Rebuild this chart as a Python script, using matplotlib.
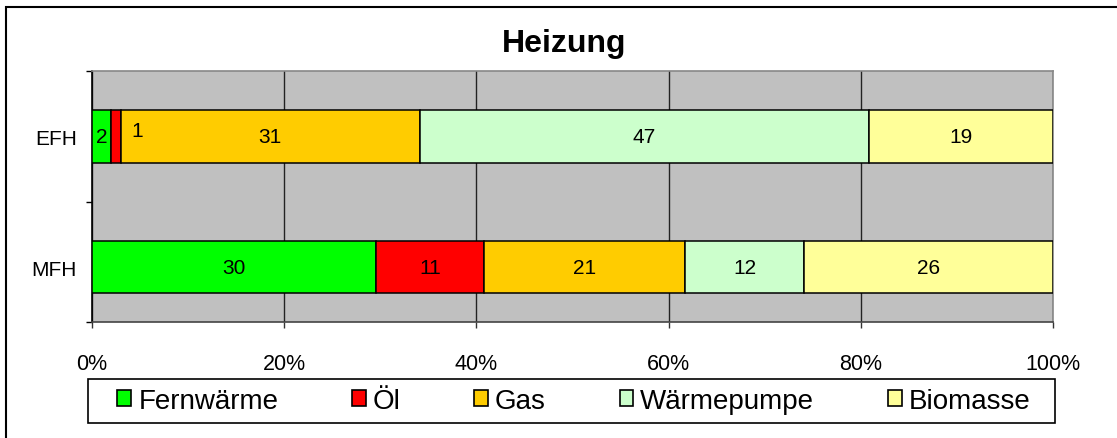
import matplotlib
matplotlib.use("Agg")
import matplotlib.pyplot as plt
from matplotlib.patches import Rectangle
import numpy as np

plt.rcParams['font.family'] = ['Liberation Sans', 'DejaVu Sans']

categories = ["EFH", "MFH"]
series = ["Fernwärme", "Öl", "Gas", "Wärmepumpe", "Biomasse"]
values = {
    "EFH": [2.0, 1.0, 31.1, 46.8, 19.1],
    "MFH": [29.6, 11.2, 20.9, 12.4, 25.9],
}
colors = ["#00FF00", "#FF0000", "#FFCC00", "#CCFFCC", "#FFFF99"]
xticks = [0, 20, 40, 60, 80, 100]
xticklabels = [f"{t}%" for t in xticks]

W, H = 1117, 439
fig = plt.figure(figsize=(W / 100, H / 100), dpi=100)
ax = fig.add_axes([92 / W, 1 - 323 / H, (1053 - 92) / W, (323 - 72) / H])
ax.set_facecolor("#C0C0C0")

ylo, yhi = -0.42, 1.50
ypos = {"EFH": 1, "MFH": 0}
for cat in categories:
    left = 0.0
    for i, (s, v) in enumerate(zip(series, values[cat])):
        ax.barh(ypos[cat], v, left=left, height=0.40, color=colors[i],
                edgecolor="black", linewidth=1.1, zorder=3,
                label=s if cat == "EFH" else None)
        lab = f"{round(v):d}"
        if v < 1.5:
            ax.annotate(lab, (left + v / 2, ypos[cat]), xytext=(15, 4),
                        textcoords="offset points", ha="center", va="center",
                        fontsize=15, zorder=4)
        else:
            ax.text(left + v / 2, ypos[cat], lab, ha="center", va="center",
                    fontsize=15, zorder=4)
        left += v

ax.set_xlim(0, 100)
ax.set_ylim(ylo, yhi)
ax.set_xticks(xticks)
ax.set_xticklabels(xticklabels, fontsize=15.5)
ax.tick_params(axis="x", length=4.5, width=1, color="#333333", pad=18, direction="out")
ax.set_yticks([0, 1])
ax.set_yticklabels(["MFH", "EFH"], fontsize=15)
ax.tick_params(axis="y", which="major", length=0, pad=11)
ax.set_yticks([ylo, 0.5, yhi], minor=True)
ax.tick_params(axis="y", which="minor", length=4.5, width=1, color="black", direction="out")
ax.xaxis.grid(True, color="#222222", linewidth=1, zorder=1)
ax.set_axisbelow(True)
ax.spines["left"].set_color("black")
ax.spines["left"].set_linewidth(1.2)
ax.spines["bottom"].set_color("#444444")
ax.spines["bottom"].set_linewidth(1.2)
ax.spines["top"].set_color("#888888")
ax.spines["right"].set_color("#888888")
ax.spines["top"].set_linewidth(1.2)
ax.spines["right"].set_linewidth(1.2)

fig.text(564 / W, 1 - 44 / H, "Heizung", fontsize=23, fontweight="bold",
         ha="center", va="center")

# legend frame
fig.patches.append(Rectangle((88 / W, 1 - 424 / H), 967 / W, 44 / H,
                             transform=fig.transFigure, facecolor="white",
                             edgecolor="black", linewidth=1.2, zorder=0))
leg = fig.legend(loc="center", bbox_to_anchor=(574 / W, 1 - 402 / H),
                 ncol=5, fontsize=20, frameon=False,
                 borderaxespad=0, handlelength=0.5, handleheight=0.5,
                 handletextpad=0.25, columnspacing=2.65)
for p in leg.get_patches():
    p.set_linewidth(1.2)

fig.patches.append(Rectangle((6 / W, -0.2), 1.2, 1 - 8 / H + 0.2,
                             transform=fig.transFigure, fill=False,
                             edgecolor="black", linewidth=1.5))

fig.savefig("out.png", dpi=100)
